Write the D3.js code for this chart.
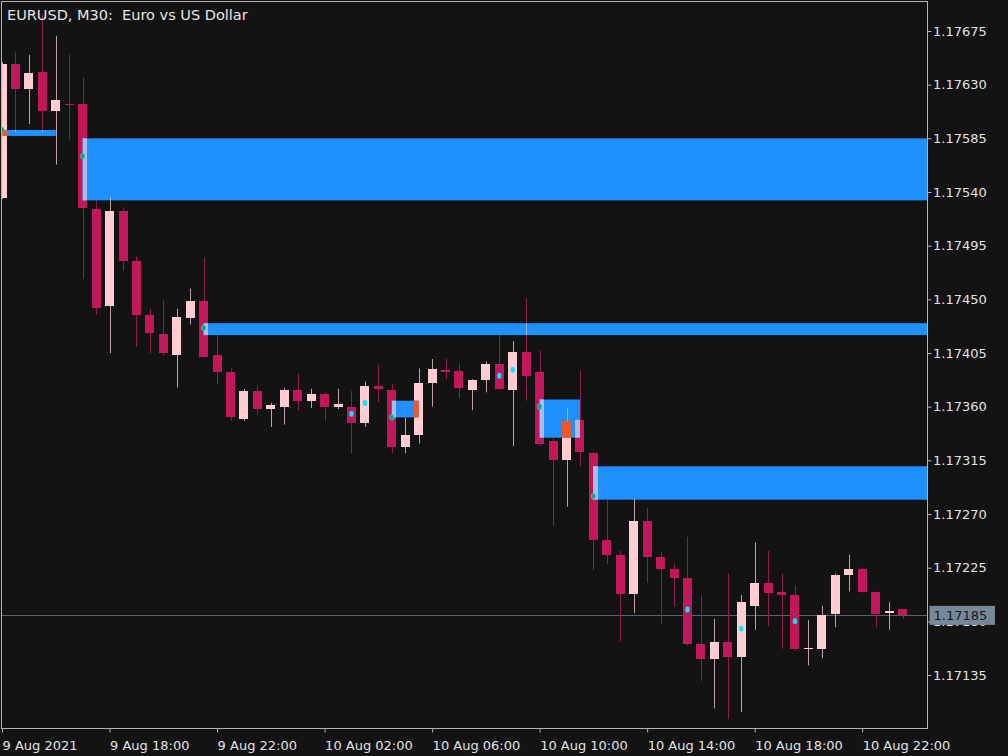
<!DOCTYPE html>
<html><head><meta charset="utf-8">
<script src="https://cdn.jsdelivr.net/npm/d3@7/dist/d3.min.js"></script>
<style>html,body{margin:0;padding:0;background:#131313;}svg{display:block}</style>
</head><body>
<svg id="chart" width="1008" height="756"></svg>
<script>
// ---- DATA (EURUSD M30, 9 Aug 14:00 .. 10 Aug 23:30) ----
const opens  = [1.17535,1.17647,1.17626,1.17641,1.17608,1.17614,1.17614,1.17526,1.17444,1.17524,
                1.17482,1.17437,1.17421,1.17403,1.17434,1.17449,1.17403,1.17389,1.17350,1.17373,
                1.17358,1.17360,1.17374,1.17365,1.17371,1.17360,1.17360,1.17346,1.17377,1.17374,
                1.17326,1.17336,1.17380,1.17391,1.17390,1.17374,1.17382,1.17396,1.17374,1.17406,
                1.17389,1.17331,1.17315,1.17349,1.17321,1.17248,1.17236,1.17203,1.17264,1.17234,
                1.17224,1.17216,1.17161,1.17148,1.17163,1.17150,1.17193,1.17212,1.17205,1.17202,
                1.17157,1.17157,1.17186,1.17219,1.17224,1.17205,1.17187,1.17190];
const highs  = [1.17649,1.17657,1.17655,1.17689,1.17671,1.17655,1.17636,1.17533,1.17536,1.17527,
                1.17486,1.17442,1.17449,1.17442,1.17459,1.17485,1.17420,1.17392,1.17375,1.17378,
                1.17363,1.17376,1.17388,1.17375,1.17372,1.17375,1.17373,1.17381,1.17395,1.17379,
                1.17351,1.17392,1.17400,1.17400,1.17396,1.17383,1.17398,1.17420,1.17415,1.17451,
                1.17407,1.17334,1.17359,1.17390,1.17322,1.17282,1.17239,1.17283,1.17275,1.17238,
                1.17228,1.17251,1.17202,1.17182,1.17220,1.17202,1.17246,1.17239,1.17220,1.17210,
                1.17181,1.17193,1.17220,1.17236,1.17225,1.17205,1.17196,1.17190];
const lows   = [1.17534,1.17590,1.17597,1.17590,1.17563,1.17584,1.17467,1.17437,1.17405,1.17474,
                1.17410,1.17405,1.17403,1.17376,1.17429,1.17401,1.17379,1.17348,1.17348,1.17353,
                1.17343,1.17345,1.17357,1.17359,1.17348,1.17358,1.17321,1.17343,1.17364,1.17321,
                1.17321,1.17329,1.17360,1.17383,1.17367,1.17357,1.17372,1.17374,1.17327,1.17365,
                1.17327,1.17260,1.17276,1.17310,1.17223,1.17228,1.17163,1.17187,1.17212,1.17178,
                1.17192,1.17160,1.17130,1.17107,1.17098,1.17104,1.17173,1.17176,1.17157,1.17155,
                1.17143,1.17149,1.17175,1.17205,1.17204,1.17175,1.17173,1.17182];
const closes = [1.17647,1.17626,1.17640,1.17608,1.17617,1.17613,1.17527,1.17443,1.17524,1.17482,
                1.17437,1.17422,1.17405,1.17435,1.17449,1.17402,1.17389,1.17351,1.17373,1.17358,
                1.17361,1.17374,1.17365,1.17371,1.17360,1.17362,1.17346,1.17377,1.17375,1.17326,
                1.17336,1.17380,1.17392,1.17389,1.17376,1.17382,1.17396,1.17375,1.17406,1.17386,
                1.17329,1.17315,1.17348,1.17322,1.17248,1.17236,1.17203,1.17264,1.17234,1.17224,
                1.17216,1.17161,1.17148,1.17163,1.17150,1.17196,1.17212,1.17204,1.17202,1.17157,
                1.17158,1.17185,1.17219,1.17224,1.17205,1.17186,1.17189,1.17185];

// supply/demand zones (bar index where they start / end; null = extends to the right)
const zoneStart  = [0, 6, 15, 29, 40, 44];
const zoneEnd    = [4, null, null, 31, 43, null];
const zoneTop    = [1.17592, 1.17585, 1.17430, 1.17365, 1.17366, 1.17310];
const zoneBottom = [1.17587, 1.17533, 1.17420, 1.17351, 1.17334, 1.17282];
const zoneDot    = [1.17592, 1.17570, 1.17426, 1.17351, 1.17360, 1.17285];

// cyan signal markers
const markIdx   = [26, 27, 37, 38, 51, 55, 59];
const markPrice = [1.17354, 1.17363, 1.17386, 1.17391, 1.17190, 1.17174, 1.17180];

const yTicks = [1.17675,1.17630,1.17585,1.17540,1.17495,1.17450,1.17405,1.17360,1.17315,1.17270,1.17225,1.17180,1.17135];
const xTickIdx = [0, 8, 16, 24, 32, 40, 48, 56, 64];
const xTickLabels = ["9 Aug 2021","9 Aug 18:00","9 Aug 22:00","10 Aug 02:00","10 Aug 06:00",
                     "10 Aug 10:00","10 Aug 14:00","10 Aug 18:00","10 Aug 22:00"];
const currentPrice = 1.17185;
const title = "EURUSD, M30:  Euro vs US Dollar";

// ---- LAYOUT ----
const P = {left: 1.5, top: 1.5, right: 927.5, bottom: 728.5};
const BG = "#131313";
const BULL = "#ffcdd2", BEAR = "#c2185b";
const BULL_WICK = "#bfa0a0", BEAR_WICK = "#8e1c4c";
const ZONE = "#1e90ff", OVER_BEAR = "#aabde6", OVER_BULL = "#f0582a", OVER_WICK = "#8db8f0";
const FONT = "DejaVu Sans, sans-serif";

const svg = d3.select("#chart");
svg.append("rect").attr("width",1008).attr("height",756).attr("fill",BG);

const x = d3.scaleLinear().domain([0, opens.length - 1]).range([2.06, 902.5]);
const y = d3.scaleLinear().domain([1.17675, 1.17135]).range([31, 675]);
const bw = 9;

svg.append("defs").append("clipPath").attr("id","clip")
  .append("rect").attr("x",P.left).attr("y",P.top).attr("width",P.right-P.left).attr("height",P.bottom-P.top);

const g = svg.append("g").attr("clip-path","url(#clip)");

const bars = d3.range(opens.length).map(i => ({
  i, o: opens[i], h: highs[i], l: lows[i], c: closes[i], bull: closes[i] >= opens[i]
}));

// current price line (behind candles)
g.append("line")
  .attr("x1",P.left).attr("x2",P.right)
  .attr("y1",Math.round(y(currentPrice))+0.5).attr("y2",Math.round(y(currentPrice))+0.5)
  .attr("stroke","#59616a").attr("stroke-width",1);

// wicks
g.selectAll("line.wick").data(bars).join("line").attr("class","wick")
  .attr("x1",d => Math.round(x(d.i))+0.5).attr("x2",d => Math.round(x(d.i))+0.5)
  .attr("y1",d => y(d.h)).attr("y2",d => y(d.l))
  .attr("stroke",d => d.bull ? BULL_WICK : BEAR_WICK).attr("stroke-width",1);

// bodies
g.selectAll("rect.body").data(bars).join("rect").attr("class","body")
  .attr("x",d => Math.round(x(d.i) - bw/2))
  .attr("width",bw)
  .attr("y",d => y(Math.max(d.o,d.c)))
  .attr("height",d => Math.max(1.2, y(Math.min(d.o,d.c)) - y(Math.max(d.o,d.c))))
  .attr("fill",d => d.bull ? BULL : BEAR)
  .attr("shape-rendering","crispEdges");

// zones
const zones = zoneStart.map((s,k) => ({
  s, e: zoneEnd[k], top: zoneTop[k], bot: zoneBottom[k], dot: zoneDot[k],
  x0: x(s), x1: zoneEnd[k] === null ? P.right : x(zoneEnd[k])
}));
g.selectAll("rect.zone").data(zones).join("rect").attr("class","zone")
  .attr("x",d => d.x0).attr("width",d => d.x1 - d.x0)
  .attr("y",d => y(d.top)).attr("height",d => y(d.bot) - y(d.top))
  .attr("fill",ZONE);

// overlaps of zones with candle bodies / wicks
const overlaps = [], wickOver = [];
zones.forEach(z => {
  const last = z.e === null ? bars.length - 1 : z.e;
  for (let i = z.s; i <= last; i++) {
    const b = bars[i];
    const bx0 = Math.round(x(i) - bw/2), bx1 = bx0 + bw;
    const ox0 = Math.max(z.x0, bx0), ox1 = Math.min(z.x1, bx1);
    const zy0 = y(z.top), zy1 = y(z.bot);
    const by0 = y(Math.max(b.o,b.c)), by1 = y(Math.min(b.o,b.c));
    const oy0 = Math.max(zy0, by0), oy1 = Math.min(zy1, by1);
    if (ox1 > ox0 && oy1 > oy0) overlaps.push({x:ox0, w:ox1-ox0, y:oy0, h:oy1-oy0, bull:b.bull});
    const cx = Math.round(x(i)) + 0.5;
    if (cx > z.x0 && cx < z.x1) {
      const wy0 = Math.max(zy0, y(b.h)), wy1 = Math.min(zy1, y(b.l));
      if (wy1 > wy0) wickOver.push({x:cx, y0:wy0, y1:wy1});
    }
  }
});
g.selectAll("line.wo").data(wickOver).join("line").attr("class","wo")
  .attr("x1",d => d.x).attr("x2",d => d.x).attr("y1",d => d.y0).attr("y2",d => d.y1)
  .attr("stroke",OVER_WICK).attr("stroke-width",1);
g.selectAll("rect.over").data(overlaps).join("rect").attr("class","over")
  .attr("x",d => d.x).attr("width",d => d.w).attr("y",d => d.y).attr("height",d => d.h)
  .attr("fill",d => d.bull ? OVER_BULL : OVER_BEAR);

// zone start dots
g.selectAll("ellipse.zd").data(zones).join("ellipse").attr("class","zd")
  .attr("cx",d => d.x0).attr("cy",d => y(d.dot)).attr("rx",2.1).attr("ry",2.8)
  .attr("fill","#0f9e6e").attr("stroke","#2fd8c8").attr("stroke-width",0.8);

// cyan markers
g.selectAll("ellipse.mk").data(markIdx).join("ellipse").attr("class","mk")
  .attr("cx",d => x(d)).attr("cy",(d,k) => y(markPrice[k])).attr("rx",2.2).attr("ry",3)
  .attr("fill","#00e8ff");

// frame
svg.append("rect").attr("x",P.left).attr("y",P.top)
  .attr("width",P.right-P.left).attr("height",P.bottom-P.top)
  .attr("fill","none").attr("stroke","#b4b4b4").attr("stroke-width",1);

// right axis
const yAxis = d3.axisRight(y).tickValues(yTicks).tickSize(4).tickPadding(1.5)
  .tickFormat(d3.format(".5f"));
const ya = svg.append("g").attr("transform",`translate(${P.right},0)`).call(yAxis);
ya.select(".domain").remove();
ya.selectAll(".tick line").attr("stroke","#b4b4b4");
ya.selectAll(".tick text").attr("fill","#e2e2e2").attr("font-family",FONT).attr("font-size","13px");

// bottom axis
const xAxis = d3.axisBottom(x).tickValues(xTickIdx).tickSize(4).tickPadding(8)
  .tickFormat((d,k) => xTickLabels[k]);
const xa = svg.append("g").attr("transform",`translate(0,${P.bottom})`).call(xAxis);
xa.select(".domain").remove();
xa.selectAll(".tick line").attr("stroke","#b4b4b4");
xa.selectAll(".tick text").attr("fill","#e2e2e2").attr("font-family",FONT).attr("font-size","13px")
  .attr("text-anchor","start").attr("dx","0");

// current price label
const cy = y(currentPrice);
svg.append("rect").attr("x",929.5).attr("y",cy-9.5).attr("width",65.5).attr("height",19)
  .attr("fill","#778899");
svg.append("text").attr("x",933.5).attr("y",cy).attr("dy","0.36em")
  .attr("fill","#141a22").attr("font-family",FONT).attr("font-size","13px")
  .text(d3.format(".5f")(currentPrice));

// title
svg.append("text").attr("x",7).attr("y",20).attr("fill","#e6e6e6")
  .attr("font-family",FONT).attr("font-size","14.5px")
  .attr("xml:space","preserve").style("white-space","pre").text(title);
</script>
</body></html>
